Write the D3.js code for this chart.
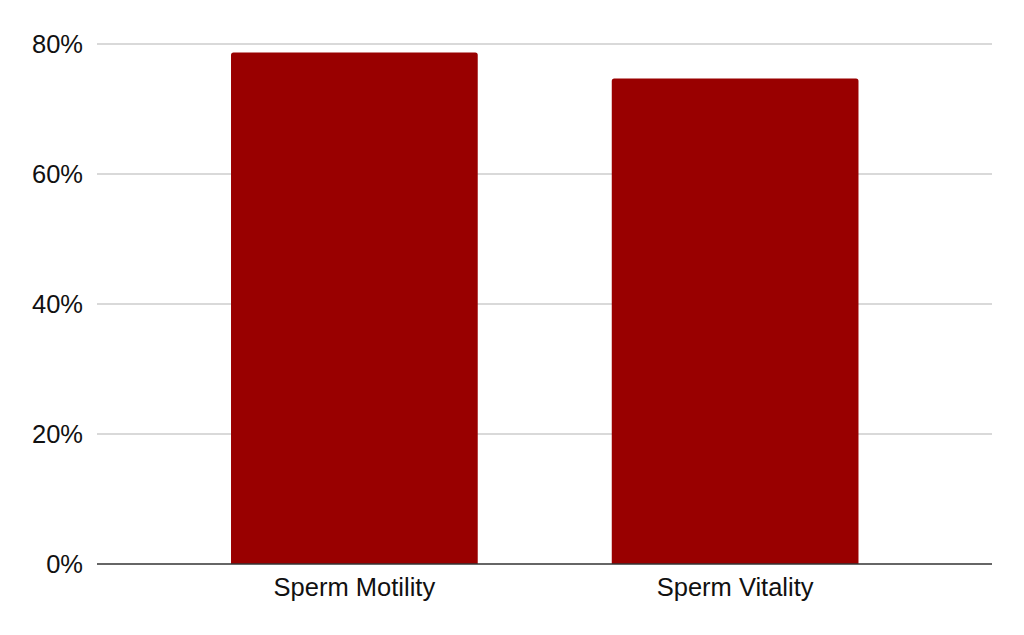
<!DOCTYPE html>
<html>
<head>
<meta charset="utf-8">
<script src="https://cdn.jsdelivr.net/npm/d3@7"></script>
<style>
  body { margin: 0; background: #fff; }
  text { font-family: "Liberation Sans", Arial, sans-serif; fill: #111; }
</style>
</head>
<body>
<div id="chart"></div>
<script>
var categories = ["Sperm Motility", "Sperm Vitality"];
var values = [0.787, 0.747];
var yTicks = [0, 0.2, 0.4, 0.6, 0.8];

var svgWidth = 1024;
var svgHeight = 635;

var plotLeft = 97, plotRight = 992;
var plotTop = 44, plotBottom = 564;

var svg = d3.select("#chart")
  .append("svg")
  .attr("width", svgWidth)
  .attr("height", svgHeight);

var xScale = d3.scaleBand()
  .domain(categories)
  .range([164, 925.5])
  .paddingInner(0.352)
  .paddingOuter(0.176);

var yScale = d3.scaleLinear()
  .domain([0, 0.8])
  .range([plotBottom, plotTop]);

// gridlines
svg.append("g")
  .selectAll("line")
  .data(yTicks.slice(1))
  .enter()
  .append("line")
  .attr("x1", plotLeft)
  .attr("x2", plotRight)
  .attr("y1", d => yScale(d))
  .attr("y2", d => yScale(d))
  .attr("stroke", "#cccccc")
  .attr("stroke-width", 1.3);

// y tick labels
svg.append("g")
  .selectAll("text")
  .data(yTicks)
  .enter()
  .append("text")
  .attr("x", 83)
  .attr("y", d => yScale(d))
  .attr("dy", "0.36em")
  .attr("text-anchor", "end")
  .style("font-size", "25.5px")
  .text(d => d3.format(".0%")(d));

// bars
svg.append("g")
  .selectAll("path")
  .data(values)
  .enter()
  .append("path")
  .attr("fill", "#990000")
  .attr("d", function(d, i) {
    var x0 = xScale(categories[i]);
    var w = xScale.bandwidth();
    var y0 = yScale(d);
    var y1 = yScale(0);
    var r = 2.5;
    return "M" + x0 + "," + y1 +
      "V" + (y0 + r) +
      "Q" + x0 + "," + y0 + " " + (x0 + r) + "," + y0 +
      "H" + (x0 + w - r) +
      "Q" + (x0 + w) + "," + y0 + " " + (x0 + w) + "," + (y0 + r) +
      "V" + y1 + "Z";
  });

// baseline
svg.append("line")
  .attr("x1", plotLeft)
  .attr("x2", plotRight)
  .attr("y1", yScale(0))
  .attr("y2", yScale(0))
  .attr("stroke", "#333333")
  .attr("stroke-width", 1.5);

// x labels
svg.append("g")
  .selectAll("text")
  .data(categories)
  .enter()
  .append("text")
  .attr("x", d => xScale(d) + xScale.bandwidth() / 2)
  .attr("y", 596)
  .attr("text-anchor", "middle")
  .style("font-size", "25.5px")
  .text(d => d);
</script>
</body>
</html>
